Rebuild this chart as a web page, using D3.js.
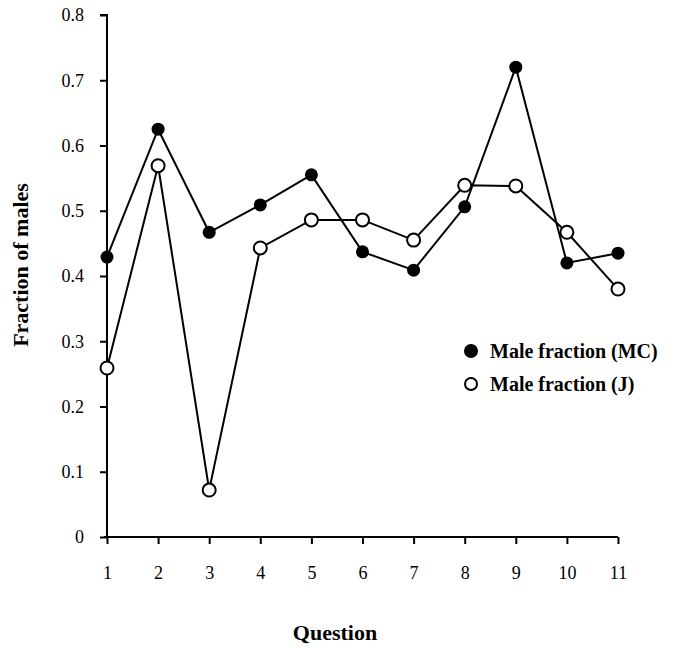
<!DOCTYPE html>
<html>
<head>
<meta charset="utf-8">
<script src="https://cdnjs.cloudflare.com/ajax/libs/d3/7.8.5/d3.min.js"></script>
<style>
  body { margin: 0; background: #fff; }
  svg text { font-family: "Liberation Serif", "DejaVu Serif", serif; fill: #000; }
</style>
</head>
<body>
<div id="chart"></div>
<script>
var questions = [1, 2, 3, 4, 5, 6, 7, 8, 9, 10, 11];
var maleMC = [0.429, 0.625, 0.467, 0.509, 0.555, 0.437, 0.409, 0.506, 0.720, 0.420, 0.435];
var maleJ  = [0.259, 0.569, 0.072, 0.443, 0.486, 0.486, 0.455, 0.539, 0.538, 0.467, 0.380];
var yTicks = [0, 0.1, 0.2, 0.3, 0.4, 0.5, 0.6, 0.7, 0.8];
var seriesNames = ["Male fraction (MC)", "Male fraction (J)"];

var width = 688, height = 648;
var margin = { top: 15, right: 69, bottom: 111, left: 107 };

var svg = d3.select("#chart").append("svg")
    .attr("width", width)
    .attr("height", height);

var g = svg.append("g")
    .attr("transform", "translate(" + margin.left + "," + margin.top + ")");

var w = width - margin.left - margin.right,
    h = height - margin.top - margin.bottom;

var x = d3.scaleLinear().domain([1, 11]).range([0, w - 1]);
var y = d3.scaleLinear().domain([0, 0.8]).range([h, 0]);

// axes
var xAxis = g.append("g")
    .attr("transform", "translate(0," + h + ")")
    .call(d3.axisBottom(x).tickValues(questions).tickSize(7).tickPadding(22).tickFormat(d3.format("d")));
var yAxis = g.append("g")
    .call(d3.axisLeft(y).tickValues(yTicks).tickSize(7).tickPadding(16)
      .tickFormat(function(d){ return d === 0 ? "0" : d3.format(".1f")(d); }));

[xAxis, yAxis].forEach(function(ax){
  ax.select(".domain").attr("stroke-width", 2);
  ax.selectAll(".tick line").attr("stroke-width", 2);
  ax.selectAll("text").style("font-size", "18px").attr("font-family", null);
});
xAxis.select(".domain").attr("d", "M-3,0H" + (w - 1));
yAxis.select(".domain").attr("d", "M-7,0H0V" + h);

var line = d3.line()
    .x(function(d, i){ return x(questions[i]); })
    .y(function(d){ return y(d); });

g.append("path").datum(maleMC)
  .attr("d", line).attr("fill", "none").attr("stroke", "#000").attr("stroke-width", 2);
g.append("path").datum(maleJ)
  .attr("d", line).attr("fill", "none").attr("stroke", "#000").attr("stroke-width", 2);

g.selectAll(".mc").data(maleMC).enter().append("circle")
  .attr("class", "mc")
  .attr("cx", function(d, i){ return x(questions[i]); })
  .attr("cy", function(d){ return y(d); })
  .attr("r", 6.5).attr("fill", "#000");

g.selectAll(".j").data(maleJ).enter().append("circle")
  .attr("class", "j")
  .attr("cx", function(d, i){ return x(questions[i]); })
  .attr("cy", function(d){ return y(d); })
  .attr("r", 6.5).attr("fill", "#fff").attr("stroke", "#000").attr("stroke-width", 2);

// axis titles
svg.append("text")
  .attr("x", 335).attr("y", 640)
  .attr("text-anchor", "middle")
  .style("font-size", "22px").style("font-weight", "bold")
  .text("Question");

svg.append("text")
  .attr("transform", "translate(28,265) rotate(-90)")
  .attr("text-anchor", "middle")
  .style("font-size", "22px").style("font-weight", "bold")
  .text("Fraction of males");

// legend
var legend = svg.append("g").attr("transform", "translate(471,351)");
seriesNames.forEach(function(name, i){
  var row = legend.append("g").attr("transform", "translate(0," + (i * 33) + ")");
  row.append("circle").attr("r", 6)
    .attr("fill", i === 0 ? "#000" : "#fff")
    .attr("stroke", "#000").attr("stroke-width", 2);
  row.append("text").attr("x", 19).attr("y", 7)
    .style("font-size", "20px").style("font-weight", "bold")
    .text(name);
});
</script>
</body>
</html>
